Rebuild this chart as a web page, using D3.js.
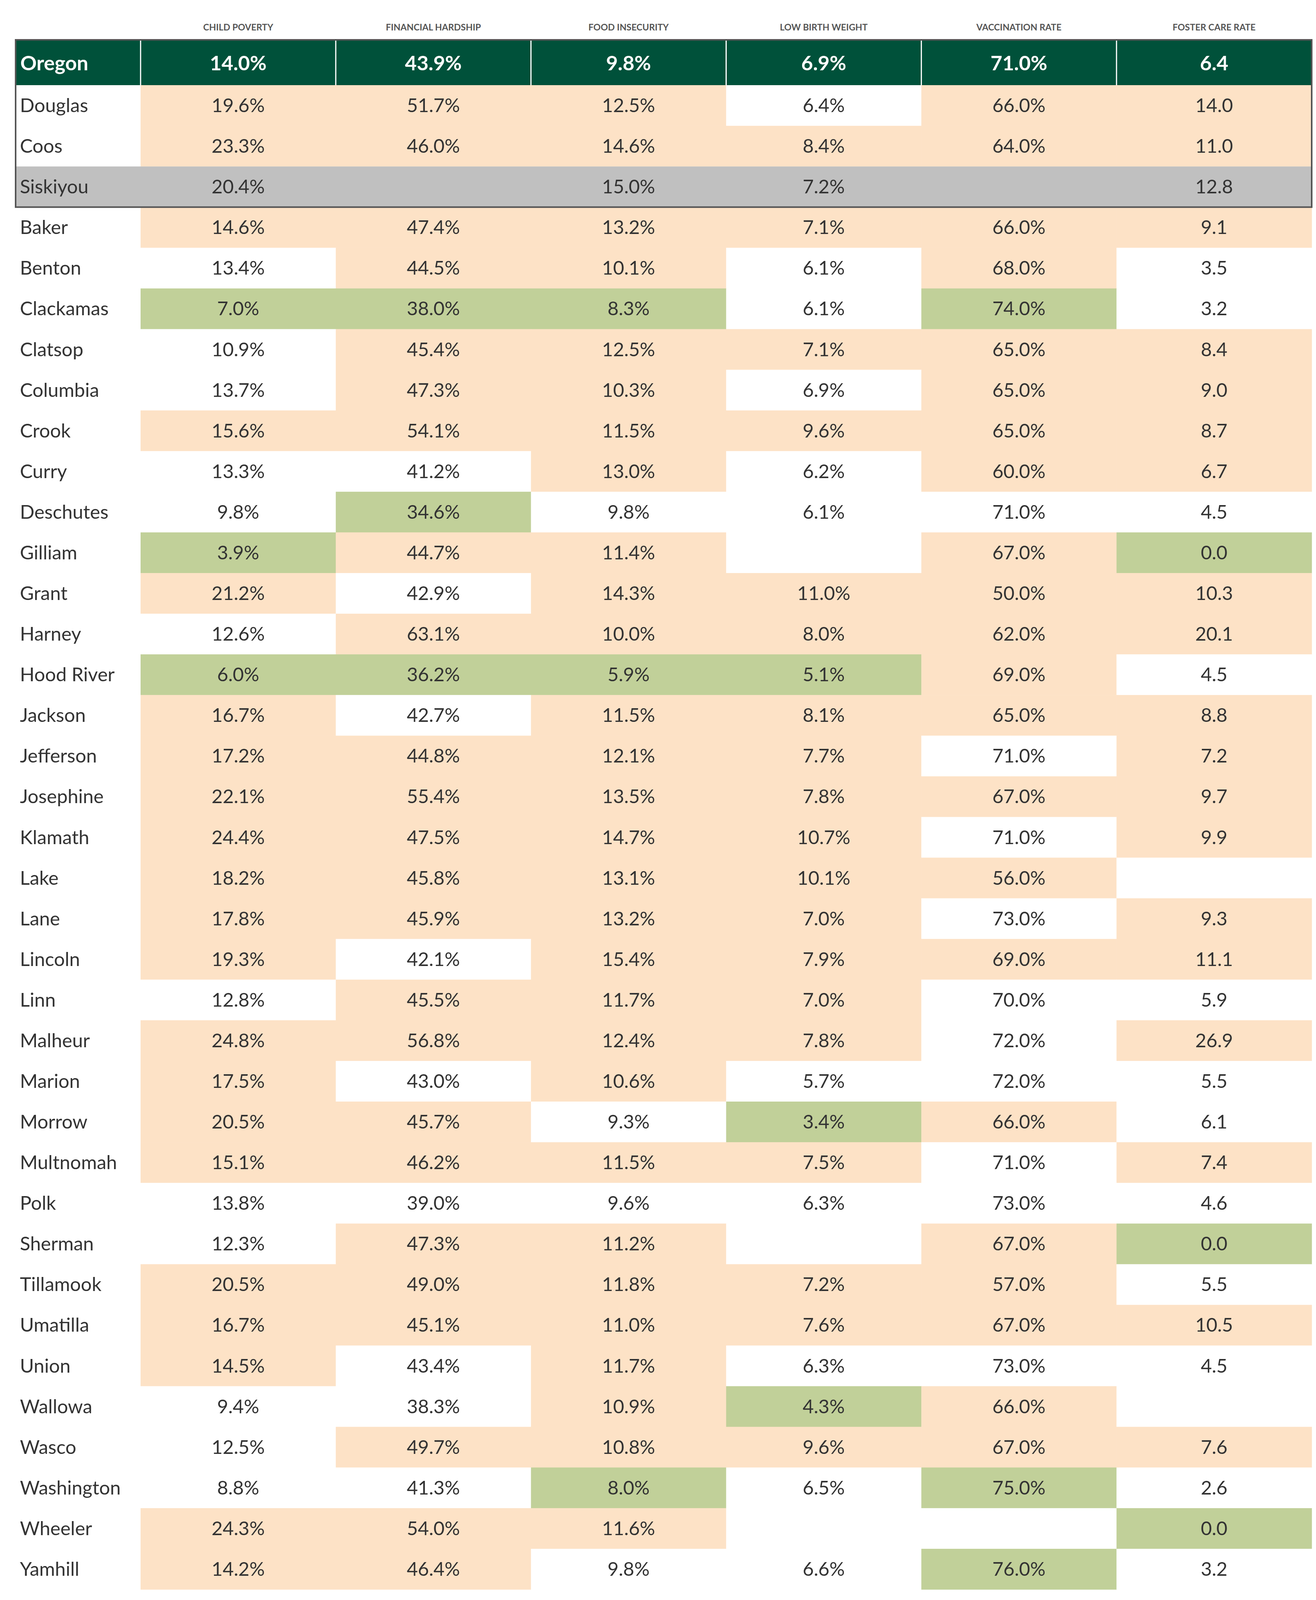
<!DOCTYPE html>
<html>
<head>
<meta charset="utf-8">
<script src="https://cdn.jsdelivr.net/npm/d3@7"></script>
<style>
  body { margin: 0; background: #fff; }
  svg { display: block; }
</style>
</head>
<body>
<svg id="chart"></svg>
<script>
// column headers
var metrics = ["CHILD POVERTY", "FINANCIAL HARDSHIP", "FOOD INSECURITY", "LOW BIRTH WEIGHT", "VACCINATION RATE", "FOSTER CARE RATE"];

// statewide values
var stateName = "Oregon";
var stateValues = [14.0, 43.9, 9.8, 6.9, 71.0, 6.4];

var counties = ["Douglas", "Coos", "Siskiyou", "Baker", "Benton", "Clackamas", "Clatsop", "Columbia", "Crook", "Curry",
  "Deschutes", "Gilliam", "Grant", "Harney", "Hood River", "Jackson", "Jefferson", "Josephine", "Klamath", "Lake",
  "Lane", "Lincoln", "Linn", "Malheur", "Marion", "Morrow", "Multnomah", "Polk", "Sherman", "Tillamook",
  "Umatilla", "Union", "Wallowa", "Wasco", "Washington", "Wheeler", "Yamhill"];

var childPoverty = [19.6, 23.3, 20.4, 14.6, 13.4, 7.0, 10.9, 13.7, 15.6, 13.3,
  9.8, 3.9, 21.2, 12.6, 6.0, 16.7, 17.2, 22.1, 24.4, 18.2,
  17.8, 19.3, 12.8, 24.8, 17.5, 20.5, 15.1, 13.8, 12.3, 20.5,
  16.7, 14.5, 9.4, 12.5, 8.8, 24.3, 14.2];

var financialHardship = [51.7, 46.0, null, 47.4, 44.5, 38.0, 45.4, 47.3, 54.1, 41.2,
  34.6, 44.7, 42.9, 63.1, 36.2, 42.7, 44.8, 55.4, 47.5, 45.8,
  45.9, 42.1, 45.5, 56.8, 43.0, 45.7, 46.2, 39.0, 47.3, 49.0,
  45.1, 43.4, 38.3, 49.7, 41.3, 54.0, 46.4];

var foodInsecurity = [12.5, 14.6, 15.0, 13.2, 10.1, 8.3, 12.5, 10.3, 11.5, 13.0,
  9.8, 11.4, 14.3, 10.0, 5.9, 11.5, 12.1, 13.5, 14.7, 13.1,
  13.2, 15.4, 11.7, 12.4, 10.6, 9.3, 11.5, 9.6, 11.2, 11.8,
  11.0, 11.7, 10.9, 10.8, 8.0, 11.6, 9.8];

var lowBirthWeight = [6.4, 8.4, 7.2, 7.1, 6.1, 6.1, 7.1, 6.9, 9.6, 6.2,
  6.1, null, 11.0, 8.0, 5.1, 8.1, 7.7, 7.8, 10.7, 10.1,
  7.0, 7.9, 7.0, 7.8, 5.7, 3.4, 7.5, 6.3, null, 7.2,
  7.6, 6.3, 4.3, 9.6, 6.5, null, 6.6];

var vaccinationRate = [66.0, 64.0, null, 66.0, 68.0, 74.0, 65.0, 65.0, 65.0, 60.0,
  71.0, 67.0, 50.0, 62.0, 69.0, 65.0, 71.0, 67.0, 71.0, 56.0,
  73.0, 69.0, 70.0, 72.0, 72.0, 66.0, 71.0, 73.0, 67.0, 57.0,
  67.0, 73.0, 66.0, 67.0, 75.0, null, 76.0];

var fosterCare = [14.0, 11.0, 12.8, 9.1, 3.5, 3.2, 8.4, 9.0, 8.7, 6.7,
  4.5, 0.0, 10.3, 20.1, 4.5, 8.8, 7.2, 9.7, 9.9, null,
  9.3, 11.1, 5.9, 26.9, 5.5, 6.1, 7.4, 4.6, 0.0, 5.5,
  10.5, 4.5, null, 7.6, 2.6, 0.0, 3.2];

// per county, one letter per metric: W = worse than state, B = much better, blank = neither
var flags = ["WWW WW", "WWWWWW", "      ", "WWWWWW", " WW W ", "BBB B ", " WWWWW", " WW WW", "WWWWWW", "  W WW",
  " B    ", "BWW WB", "W WWWW", " WWWWW", "BBBBW ", "W WWWW", "WWWW W", "WWWWWW", "WWWW W", "WWWWW ",
  "WWWW W", "W WWWW", " WWW  ", "WWWW W", "W W   ", "WW BW ", "WWWW W", "      ", " WW WB", "WWWWW ",
  "WWWWWW", "W W   ", "  WBW ", " WWWWW", "  B B ", "WWW  B", "WW  B "];

var highlighted = "Siskiyou";

var series = [childPoverty, financialHardship, foodInsecurity, lowBirthWeight, vaccinationRate, fosterCare];

var width = 3370, height = 4110;
var svg = d3.select("#chart").attr("width", width).attr("height", height);

var fillFor = { "W": "#fde2c6", "B": "#c1d099", " ": "#ffffff" };
var textColor = "#333333";
var stateGreen = "#00513a";
var borderGrey = "#555555";
var fontFamily = "Lato, 'Open Sans', sans-serif";

var tableLeft = 40, nameRight = 360, tableRight = 3359;

var x = d3.scaleBand().domain(d3.range(metrics.length)).range([nameRight, tableRight]);
var y = d3.scaleBand().domain(counties).range([218, 4069]);

var fmt = d3.format(".1f");
function label(v, i) {
  if (v == null) return "";
  return i === 5 ? fmt(v) : fmt(v) + "%";
}

// build cells
var cells = [];
counties.forEach(function(c, r) {
  series.forEach(function(s, i) {
    cells.push({ county: c, col: i, value: s[r], flag: flags[r].charAt(i) });
  });
});

// header labels
svg.selectAll("text.head")
  .data(metrics)
  .enter().append("text")
  .attr("class", "head")
  .attr("x", function(d, i) { return x(i) + x.bandwidth() / 2; })
  .attr("y", 78)
  .attr("text-anchor", "middle")
  .style("font-family", fontFamily)
  .style("font-weight", "bold")
  .style("font-size", "23px")
  .style("fill", borderGrey)
  .text(function(d) { return d; });

// cell backgrounds
svg.selectAll("rect.cell")
  .data(cells)
  .enter().append("rect")
  .attr("class", "cell")
  .attr("x", function(d) { return x(d.col); })
  .attr("y", function(d) { return y(d.county); })
  .attr("width", x.bandwidth() + 0.5)
  .attr("height", y.bandwidth() + 0.5)
  .style("fill", function(d) { return fillFor[d.flag]; });

// highlighted county row
svg.append("rect")
  .attr("x", tableLeft)
  .attr("y", y(highlighted))
  .attr("width", tableRight - tableLeft)
  .attr("height", y.bandwidth())
  .style("fill", "#c0c0c0");

// state row
svg.append("rect")
  .attr("x", tableLeft)
  .attr("y", 102)
  .attr("width", tableRight - tableLeft)
  .attr("height", y(counties[0]) - 102)
  .style("fill", stateGreen);

svg.selectAll("line.sep")
  .data(d3.range(metrics.length))
  .enter().append("line")
  .attr("class", "sep")
  .attr("x1", function(i) { return x(i); })
  .attr("x2", function(i) { return x(i); })
  .attr("y1", 100)
  .attr("y2", y(counties[0]))
  .style("stroke", "#ffffff")
  .style("stroke-width", 3);

// box around state row and the first counties
svg.append("rect")
  .attr("x", tableLeft)
  .attr("y", 102)
  .attr("width", tableRight - tableLeft)
  .attr("height", y(highlighted) + y.bandwidth() - 102)
  .style("fill", "none")
  .style("stroke", borderGrey)
  .style("stroke-width", 4);

svg.append("line")
  .attr("x1", tableLeft).attr("x2", tableRight)
  .attr("y1", 102).attr("y2", 102)
  .style("stroke", borderGrey)
  .style("stroke-width", 4);

// state texts
svg.append("text")
  .attr("x", 52)
  .attr("y", 180)
  .style("font-family", fontFamily)
  .style("font-weight", "bold")
  .style("font-size", "52px")
  .style("fill", "#ffffff")
  .text(stateName);

svg.selectAll("text.state")
  .data(stateValues)
  .enter().append("text")
  .attr("class", "state")
  .attr("x", function(d, i) { return x(i) + x.bandwidth() / 2; })
  .attr("y", 180)
  .attr("text-anchor", "middle")
  .style("font-family", fontFamily)
  .style("font-weight", "bold")
  .style("font-size", "52px")
  .style("fill", "#ffffff")
  .text(function(d, i) { return label(d, i); });

// county names
svg.selectAll("text.name")
  .data(counties)
  .enter().append("text")
  .attr("class", "name")
  .attr("x", 51)
  .attr("y", function(d) { return y(d) + y.bandwidth() / 2 + 17; })
  .style("font-family", fontFamily)
  .style("font-size", "49px")
  .style("fill", textColor)
  .text(function(d) { return d; });

// values
svg.selectAll("text.val")
  .data(cells)
  .enter().append("text")
  .attr("class", "val")
  .attr("x", function(d) { return x(d.col) + x.bandwidth() / 2; })
  .attr("y", function(d) { return y(d.county) + y.bandwidth() / 2 + 17; })
  .attr("text-anchor", "middle")
  .style("font-family", fontFamily)
  .style("font-size", "49px")
  .style("fill", textColor)
  .text(function(d) { return label(d.value, d.col); });
</script>
</body>
</html>
